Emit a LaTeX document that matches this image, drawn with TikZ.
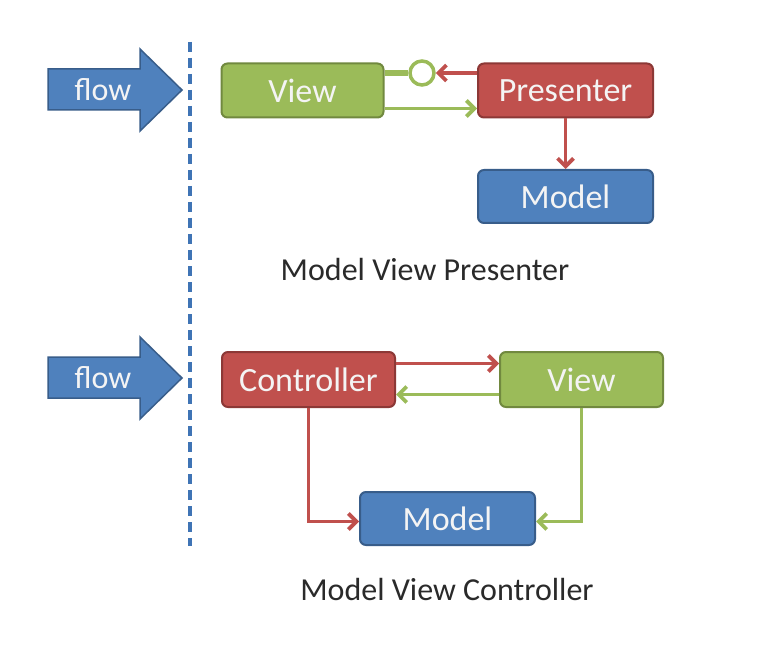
\documentclass[tikz,border=0pt]{standalone}
\usepackage{fontspec}
\setmainfont{Carlito}
\usetikzlibrary{arrows.meta}
\definecolor{gfill}{HTML}{9BBB59}
\definecolor{gdraw}{HTML}{71893F}
\definecolor{rfill}{HTML}{C0504D}
\definecolor{rdraw}{HTML}{8C3836}
\definecolor{bfill}{HTML}{4F81BD}
\definecolor{bdraw}{HTML}{385D8A}
\definecolor{txt}{HTML}{F4F4F4}
\definecolor{cap}{HTML}{2A2A2A}
\definecolor{dashc}{HTML}{3F74B5}
\tikzset{
  box/.style={rectangle, rounded corners=6pt, line width=2pt, text=txt,
    font=\fontsize{34}{38}\selectfont, inner sep=0pt},
  gbox/.style={box, fill=gfill, draw=gdraw},
  rbox/.style={box, fill=rfill, draw=rdraw},
  bbox/.style={box, fill=bfill, draw=bdraw},
  garr/.style={draw=gfill, line width=3.8pt, -{Straight Barb[length=8pt,width=16pt]}},
  rarr/.style={draw=rfill, line width=3.8pt, -{Straight Barb[length=8pt,width=16pt]}},
  flowarrow/.style={fill=bfill, draw=bdraw, line width=1.5pt, line join=miter},
  flowtxt/.style={text=txt, font=\fontsize{32}{36}\selectfont, inner sep=0pt},
  captxt/.style={text=cap, font=\fontsize{32}{36}\selectfont, inner sep=0pt}
}
\begin{document}
\begin{tikzpicture}[x=1pt,y=-1pt]
\useasboundingbox (0,0) rectangle (780,650);
\fill[white] (0,0) rectangle (780,650);
% flow arrows
\draw[flowarrow] (48,69) -- (140,69) -- (140,49) -- (182,90) -- (140,131) -- (140,110) -- (48,110) -- cycle;
\node[flowtxt] (flow1) at (103,90) {flow};
\draw[flowarrow] (48,357) -- (140,357) -- (140,337) -- (182,378) -- (140,419) -- (140,398) -- (48,398) -- cycle;
\node[flowtxt] (flow2) at (103,378) {flow};
% dashed divider
\draw[dashc, line width=3.5pt, dash pattern=on 10pt off 6pt] (190,42) -- (190,546);
% MVP
\node[gbox, minimum width=162pt, minimum height=54pt] (v1) at (302.5,90.5) {View};
\node[rbox, minimum width=175pt, minimum height=54pt] (p1) at (565.5,90.5) {Presenter};
\node[bbox, minimum width=175pt, minimum height=53pt] (m1) at (565.5,196.5) {Model};
\node[circle, draw=gfill, line width=3.5pt, fill=white, minimum size=24pt, inner sep=0pt] (c1) at (422,73) {};
\draw[gfill, line width=5.5pt] (c1.west) -- (c1.west -| v1.east);
\draw[rarr] (c1.east -| p1.west) -- (c1.east);
\path ([yshift=10pt]v1.south east) coordinate (g1);
\draw[garr] (g1) -- (g1 -| p1.west);
\draw[rarr] (p1.south) -- (m1.north);
\node[captxt] (cap1) at (425,270) {Model View Presenter};
% MVC
\node[rbox, minimum width=173pt, minimum height=55pt] (c2) at (308.5,379.5) {Controller};
\node[gbox, minimum width=163pt, minimum height=55pt] (v2) at (581.5,379.5) {View};
\node[bbox, minimum width=175pt, minimum height=53pt] (m2) at (447.5,518.5) {Model};
\path ([yshift=16pt]c2.east) coordinate (r2);
\path ([yshift=-15pt]v2.west) coordinate (g2);
\draw[rarr] (r2) -- (r2 -| v2.west);
\draw[garr] (g2) -- (g2 -| c2.east);
\draw[rarr] (c2.south) |- ([yshift=-3pt]m2.west);
\draw[garr] (v2.south) |- ([yshift=-3pt]m2.east);
\node[captxt] (cap2) at (447,590) {Model View Controller};
\end{tikzpicture}
\end{document}
